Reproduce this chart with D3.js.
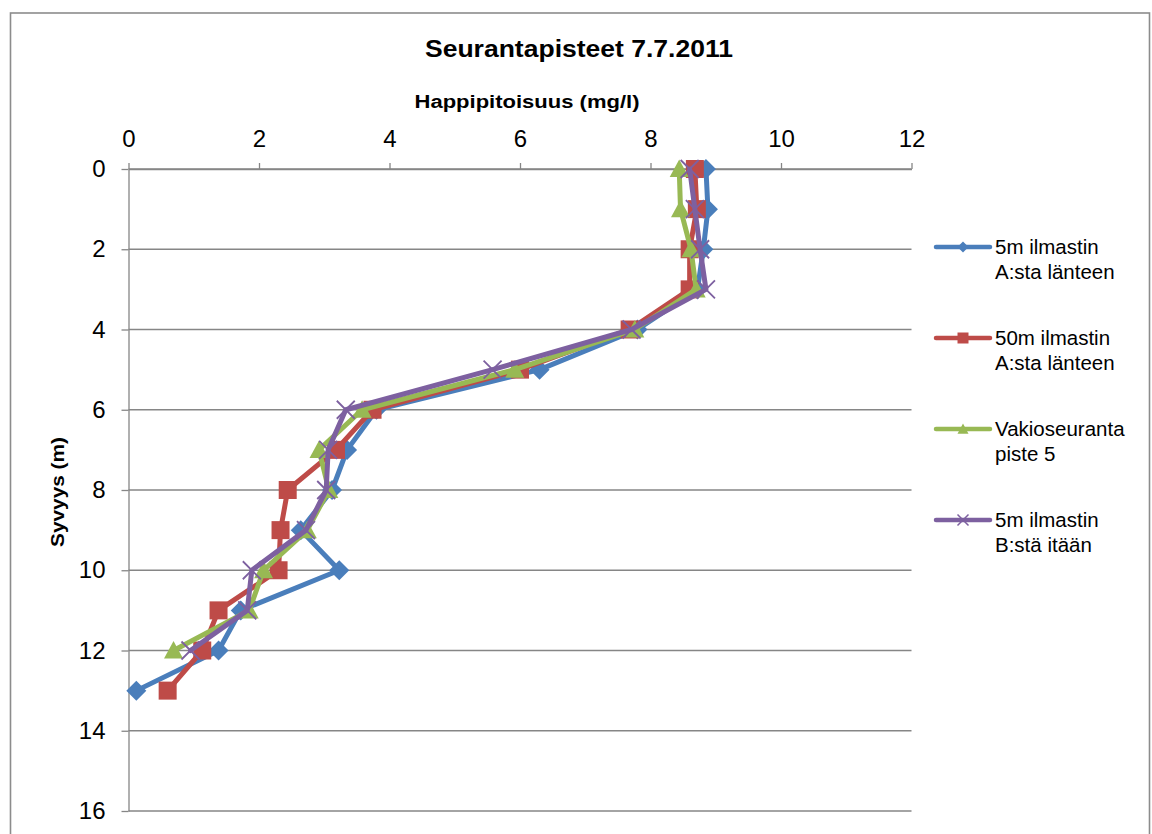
<!DOCTYPE html>
<html>
<head>
<meta charset="utf-8">
<script src="https://cdn.jsdelivr.net/npm/d3@7"></script>
<style>
  html, body { margin: 0; padding: 0; background: #fff; }
  svg { display: block; font-family: "Liberation Sans", Arial, sans-serif; }
</style>
</head>
<body>
<svg id="chart" width="1152" height="834"></svg>
<script>
// Dissolved oxygen profiles, 7.7.2011
const depths = [0, 1, 2, 3, 4, 5, 6, 7, 8, 9, 10, 11, 12, 13];
const seriesNames = [
  ["5m ilmastin", "A:sta länteen"],
  ["50m ilmastin", "A:sta länteen"],
  ["Vakioseuranta", "piste 5"],
  ["5m ilmastin", "B:stä itään"]
];
const oxygen5mA  = [8.85, 8.88, 8.81, 8.72, 7.80, 6.30, 3.80, 3.35, 3.12, 2.64, 3.23, 1.72, 1.38, 0.12];
const oxygen50mA = [8.68, 8.71, 8.60, 8.60, 7.68, 6.00, 3.74, 3.18, 2.44, 2.33, 2.30, 1.38, 1.13, 0.60];
const oxygenVak5 = [8.44, 8.46, 8.62, 8.70, 7.76, 5.92, 3.58, 2.92, 3.07, 2.74, 2.07, 1.85, 0.69];
const oxygen5mB  = [8.60, 8.68, 8.76, 8.85, 7.71, 5.58, 3.33, 3.06, 3.03, 2.72, 1.89, 1.82, 0.95];
const xTicks = [0, 2, 4, 6, 8, 10, 12];
const yTicks = [0, 2, 4, 6, 8, 10, 12, 14, 16];

const colors = ["#4A7EBB", "#BE4B48", "#98B954", "#7D60A0"];
const symbols = ["diamond", "square", "triangle", "cross"];
const values = [oxygen5mA, oxygen50mA, oxygenVak5, oxygen5mB];

const svg = d3.select("#chart");
const gridColor = "#868686";

// chart frame
svg.append("rect")
  .attr("x", 10.5).attr("y", 13).attr("width", 1139).attr("height", 860)
  .attr("fill", "#fff").attr("stroke", "#8c8c8c").attr("stroke-width", 1.6);

const x = d3.scaleLinear().domain([0, 12]).range([128.5, 911.5]);
const y = d3.scaleLinear().domain([0, 16]).range([169, 811]);

// horizontal gridlines
svg.append("g").selectAll("line").data(yTicks).join("line")
  .attr("x1", x(0)).attr("x2", x(12))
  .attr("y1", d => y(d)).attr("y2", d => y(d))
  .attr("stroke", gridColor).attr("stroke-width", 1.3);

// x axis on top
const xAxis = svg.append("g")
  .attr("transform", `translate(0,${y(0)})`)
  .call(d3.axisTop(x).tickValues(xTicks).tickSize(6).tickPadding(16).tickSizeOuter(0));
xAxis.select(".domain").attr("stroke", gridColor).attr("stroke-width", 1.3);
xAxis.selectAll(".tick line").attr("stroke", gridColor).attr("stroke-width", 1.3);
xAxis.selectAll(".tick text").attr("font-size", 24).attr("fill", "#000")
  .attr("font-family", "Liberation Sans, Arial, sans-serif");

// y axis on the left
const yAxis = svg.append("g")
  .attr("transform", `translate(${x(0)},0)`)
  .call(d3.axisLeft(y).tickValues(yTicks).tickSize(7).tickPadding(16).tickSizeOuter(0));
yAxis.select(".domain").attr("stroke", gridColor).attr("stroke-width", 1.3);
yAxis.selectAll(".tick line").attr("stroke", gridColor).attr("stroke-width", 1.3);
yAxis.selectAll(".tick text").attr("font-size", 24).attr("fill", "#000")
  .attr("font-family", "Liberation Sans, Arial, sans-serif");

// titles
svg.append("text")
  .attr("x", 579).attr("y", 57).attr("text-anchor", "middle")
  .attr("font-size", 23).attr("font-weight", "bold")
  .attr("textLength", 308).attr("lengthAdjust", "spacingAndGlyphs")
  .text("Seurantapisteet 7.7.2011");

svg.append("text")
  .attr("x", 527).attr("y", 108).attr("text-anchor", "middle")
  .attr("font-size", 18).attr("font-weight", "bold")
  .attr("textLength", 225).attr("lengthAdjust", "spacingAndGlyphs")
  .text("Happipitoisuus (mg/l)");

svg.append("text")
  .attr("transform", "translate(64,492) rotate(-90)")
  .attr("text-anchor", "middle")
  .attr("font-size", 18).attr("font-weight", "bold")
  .attr("textLength", 110).attr("lengthAdjust", "spacingAndGlyphs")
  .text("Syvyys (m)");

// marker shapes
function markerPath(kind, s) {
  const h = s / 2;
  if (kind === "diamond") return `M0,${-h}L${h},0L0,${h}L${-h},0Z`;
  if (kind === "square") return `M${-h},${-h}H${h}V${h}H${-h}Z`;
  if (kind === "triangle") return `M0,${-h}L${h},${h * 0.85}L${-h},${h * 0.85}Z`;
  return `M${-h},${-h}L${h},${h}M${h},${-h}L${-h},${h}`;
}
const markerSizes = [20, 18, 19, 18];

const line = d3.line().x(d => x(d[1])).y(d => y(d[0]));

values.forEach((vals, i) => {
  const pts = vals.map((v, k) => [depths[k], v]);
  const g = svg.append("g");
  g.append("path").datum(pts)
    .attr("d", line)
    .attr("fill", "none").attr("stroke", colors[i])
    .attr("stroke-width", 5).attr("stroke-linejoin", "round").attr("stroke-linecap", "round");
  g.selectAll("path.m").data(pts).join("path").attr("class", "m")
    .attr("transform", d => `translate(${x(d[1])},${y(d[0])})`)
    .attr("d", markerPath(symbols[i], markerSizes[i]))
    .attr("fill", symbols[i] === "cross" ? "none" : colors[i])
    .attr("stroke", colors[i])
    .attr("stroke-width", symbols[i] === "cross" ? 1.8 : 0);
});

// legend
const legendY = [247, 338, 429, 520];
const leg = svg.append("g");
seriesNames.forEach((name, i) => {
  const ly = legendY[i];
  leg.append("line")
    .attr("x1", 936).attr("x2", 990).attr("y1", ly).attr("y2", ly)
    .attr("stroke", colors[i]).attr("stroke-width", 4.5).attr("stroke-linecap", "round");
  leg.append("path")
    .attr("transform", `translate(963,${ly})`)
    .attr("d", markerPath(symbols[i], 11))
    .attr("fill", symbols[i] === "cross" ? "none" : colors[i])
    .attr("stroke", colors[i])
    .attr("stroke-width", symbols[i] === "cross" ? 1.5 : 0);
  name.forEach((t, j) => {
    leg.append("text")
      .attr("x", 995).attr("y", ly + 7 + j * 25)
      .attr("font-size", 20.5).attr("fill", "#000")
      .text(t);
  });
});
</script>
</body>
</html>
